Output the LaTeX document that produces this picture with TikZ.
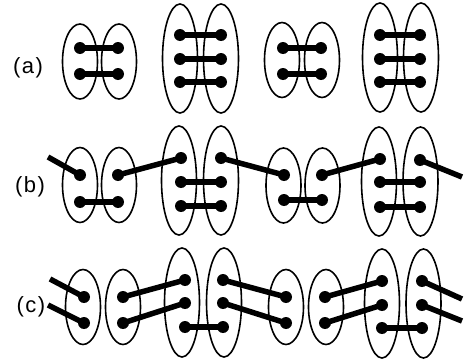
\documentclass[tikz,border=0pt]{standalone}
\usepackage{fontspec}
\setmainfont{Liberation Sans}
\usetikzlibrary{shapes.geometric}
\tikzset{
  ring/.style={draw, ellipse, line width=1.6pt, inner sep=0pt},
  smallring/.style={ring, minimum width=35pt, minimum height=75pt},
  bigring/.style={ring, minimum width=35pt, minimum height=109pt},
  dotn/.style={circle, fill=black, minimum size=12pt, inner sep=0pt},
  bar/.style={line width=5.5pt},
  lbl/.style={font=\fontsize{22}{22}\selectfont, inner sep=0pt}
}
\newcommand{\dn}[2]{\node[dotn] (#1) at (#2) {};}
\begin{document}
\begin{tikzpicture}[x=1pt,y=-1pt]
\useasboundingbox (0,0) rectangle (464,364);
% ---------------- row (a)
\node[lbl] (la) at (28,68) {(\kern1.5pt a\kern1.5pt)};
\node[smallring] (ea1) at (80,61.5) {};
\node[smallring] (ea2) at (119,61.5) {};
\node[bigring] (ea3) at (180,58.5) {};
\node[bigring] (ea4) at (221,58.5) {};
\node[smallring] (ea5) at (282,60) {};
\node[smallring] (ea6) at (322,60) {};
\node[bigring] (ea7) at (380,57.5) {};
\node[bigring] (ea8) at (421,57.5) {};
\dn{a11}{80,48}\dn{a12}{80,74}\dn{a21}{118,48}\dn{a22}{118,74}
\dn{a31}{180,35}\dn{a32}{180,59}\dn{a33}{180,82}
\dn{a41}{221,35}\dn{a42}{221,59}\dn{a43}{221,82}
\dn{a51}{283,48}\dn{a52}{283,74}\dn{a61}{321,48}\dn{a62}{321,74}
\dn{a71}{380,35}\dn{a72}{380,59}\dn{a73}{380,82}
\dn{a81}{420,35}\dn{a82}{420,59}\dn{a83}{420,82}
\draw[bar] (a11.center) -- (a21.center);
\draw[bar] (a12.center) -- (a22.center);
\draw[bar] (a31.center) -- (a41.center);
\draw[bar] (a32.center) -- (a42.center);
\draw[bar] (a33.center) -- (a43.center);
\draw[bar] (a51.center) -- (a61.center);
\draw[bar] (a52.center) -- (a62.center);
\draw[bar] (a71.center) -- (a81.center);
\draw[bar] (a72.center) -- (a82.center);
\draw[bar] (a73.center) -- (a83.center);
% ---------------- row (b)
\node[lbl] (lb) at (30,187) {(\kern1.5pt b\kern1.5pt)};
\node[smallring] (eb1) at (80,185) {};
\node[smallring] (eb2) at (119,185) {};
\node[bigring] (eb3) at (179,180.5) {};
\node[bigring] (eb4) at (221,180.5) {};
\node[smallring] (eb5) at (283.5,185.5) {};
\node[smallring] (eb6) at (322.5,185.5) {};
\node[bigring] (eb7) at (379,181.5) {};
\node[bigring] (eb8) at (420.5,181.5) {};
\dn{b11}{80,175}\dn{b12}{80,202}\dn{b21}{118,175}\dn{b22}{118,202}
\dn{b31}{181,158}\dn{b32}{181,182}\dn{b33}{181,206}
\dn{b41}{221,158}\dn{b42}{221,182}\dn{b43}{221,206}
\dn{b51}{284,175}\dn{b52}{284,200}\dn{b61}{322,175}\dn{b62}{322,200}
\dn{b71}{380,159}\dn{b72}{380,182}\dn{b73}{380,207}
\dn{b81}{420,160}\dn{b82}{420,182}\dn{b83}{420,207}
\coordinate (bin) at (48,157);
\coordinate (bout) at (462,177);
\draw[bar] (bin) -- (b11.center);
\draw[bar] (b12.center) -- (b22.center);
\draw[bar] (b21.center) -- (b31.center);
\draw[bar] (b32.center) -- (b42.center);
\draw[bar] (b33.center) -- (b43.center);
\draw[bar] (b41.center) -- (b51.center);
\draw[bar] (b52.center) -- (b62.center);
\draw[bar] (b61.center) -- (b71.center);
\draw[bar] (b72.center) -- (b82.center);
\draw[bar] (b73.center) -- (b83.center);
\draw[bar] (b81.center) -- (bout);
% ---------------- row (c)
\node[lbl] (lc) at (31,307) {(\kern1.5pt c\kern1.5pt)};
\node[smallring] (ec1) at (83,307) {};
\node[smallring] (ec2) at (123,307) {};
\node[bigring] (ec3) at (182,302.5) {};
\node[bigring] (ec4) at (224,302.5) {};
\node[smallring] (ec5) at (286,307) {};
\node[smallring] (ec6) at (326,307) {};
\node[bigring] (ec7) at (382,303.5) {};
\node[bigring] (ec8) at (423.5,303.5) {};
\dn{c11}{84,297}\dn{c12}{84,323}\dn{c21}{123,297}\dn{c22}{123,323}
\dn{c31}{185,280}\dn{c32}{185,303}\dn{c33}{185,327}
\dn{c41}{223,280}\dn{c42}{223,303}\dn{c43}{223,327}
\dn{c51}{286,297}\dn{c52}{286,323}\dn{c61}{325,297}\dn{c62}{325,323}
\dn{c71}{382,281}\dn{c72}{382,305}\dn{c73}{382,328}
\dn{c81}{422,281}\dn{c82}{422,305}\dn{c83}{422,328}
\coordinate (cin1) at (50,279);
\coordinate (cin2) at (48,305);
\coordinate (cout1) at (462,299);
\coordinate (cout2) at (462,321);
\draw[bar] (cin1) -- (c11.center);
\draw[bar] (cin2) -- (c12.center);
\draw[bar] (c21.center) -- (c31.center);
\draw[bar] (c22.center) -- (c32.center);
\draw[bar] (c33.center) -- (c43.center);
\draw[bar] (c41.center) -- (c51.center);
\draw[bar] (c42.center) -- (c52.center);
\draw[bar] (c61.center) -- (c71.center);
\draw[bar] (c62.center) -- (c72.center);
\draw[bar] (c73.center) -- (c83.center);
\draw[bar] (c81.center) -- (cout1);
\draw[bar] (c82.center) -- (cout2);
\end{tikzpicture}
\end{document}
